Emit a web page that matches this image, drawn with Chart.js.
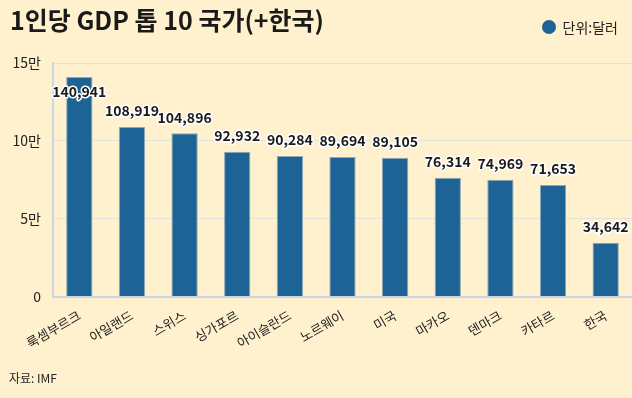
<!DOCTYPE html>
<html>
<head>
<meta charset="utf-8">
<script src="https://cdn.jsdelivr.net/npm/chart.js@4"></script>
<style>
  html, body { margin: 0; padding: 0; background: #FFF1CD; }
  #wrap { position: relative; width: 632px; height: 398px; }
  #title { position: absolute; left: 10px; top: 1px; font: bold 25px "Noto Sans CJK KR", sans-serif; color: #1a1a1a; }
  #legend { position: absolute; right: 14px; top: 17px; font: 14px "Noto Sans CJK KR", sans-serif; color: #222; display: flex; align-items: center; }
  #legend span.dot { display: inline-block; width: 14px; height: 14px; border-radius: 50%; background: #1D6396; margin-right: 7px; }
  #source { position: absolute; left: 9px; top: 369px; font: 12px "Noto Sans CJK KR", sans-serif; color: #222; }
</style>
</head>
<body>
<div id="wrap">
  <canvas id="chart" width="632" height="398"></canvas>
  <div id="title">1인당 GDP 톱 10 국가(+한국)</div>
  <div id="legend"><span class="dot"></span><span id="legendText"></span></div>
  <div id="source">자료: IMF</div>
</div>
<script>
const countries = ["룩셈부르크", "아일랜드", "스위스", "싱가포르", "아이슬란드", "노르웨이", "미국", "마카오", "덴마크", "카타르", "한국"];
const gdpPerCapita = [140941, 108919, 104896, 92932, 90284, 89694, 89105, 76314, 74969, 71653, 34642];
const seriesName = "단위:달러";

const fontFamily = '"Noto Sans CJK KR", sans-serif';
document.getElementById("legendText").textContent = seriesName;

// value labels above bars, white outline
const valueLabels = {
    id: "valueLabels",
    afterDatasetsDraw(chart) {
        const ctx = chart.ctx;
        const meta = chart.getDatasetMeta(0);
        ctx.save();
        ctx.font = "bold 14px " + fontFamily;
        ctx.textAlign = "center";
        ctx.textBaseline = "middle";
        ctx.lineJoin = "round";
        meta.data.forEach((bar, i) => {
            const text = gdpPerCapita[i].toLocaleString("en-US");
            let y = bar.y - 16;
            if (y < chart.chartArea.top + 20) y = bar.y + 15;
            ctx.strokeStyle = "#ffffff";
            ctx.lineWidth = 3;
            ctx.strokeText(text, bar.x, y);
            ctx.fillStyle = "#1a1a1a";
            ctx.fillText(text, bar.x, y);
        });
        ctx.restore();
    }
};

new Chart(document.getElementById("chart"), {
    type: "bar",
    data: {
        labels: countries,
        datasets: [{
            label: seriesName,
            data: gdpPerCapita,
            backgroundColor: "#1D6396",
            borderColor: "#8FA9B8",
            borderWidth: 1,
            categoryPercentage: 1,
            barPercentage: 0.5
        }]
    },
    options: {
        responsive: false,
        animation: false,
        layout: { padding: { top: 63, right: 0, bottom: 36, left: 0 } },
        plugins: {
            legend: { display: false },
            tooltip: { enabled: false }
        },
        scales: {
            x: {
                grid: { display: false, drawTicks: false },
                border: { color: "#C9D6E6", width: 2 },
                ticks: {
                    color: "#222",
                    font: { family: fontFamily, size: 13 },
                    minRotation: 30,
                    maxRotation: 30,
                    padding: 11
                }
            },
            y: {
                min: 0,
                max: 150000,
                grid: { color: "#E3E3DC", drawTicks: false },
                border: { color: "#C9D6E6", width: 2 },
                afterFit: (scale) => { scale.width = 53; },
                ticks: {
                    stepSize: 50000,
                    color: "#222",
                    font: { family: fontFamily, size: 14 },
                    padding: 12,
                    callback: (v) => v === 0 ? "0" : (v / 10000) + "만"
                }
            }
        }
    },
    plugins: [valueLabels]
});
</script>
</body>
</html>
